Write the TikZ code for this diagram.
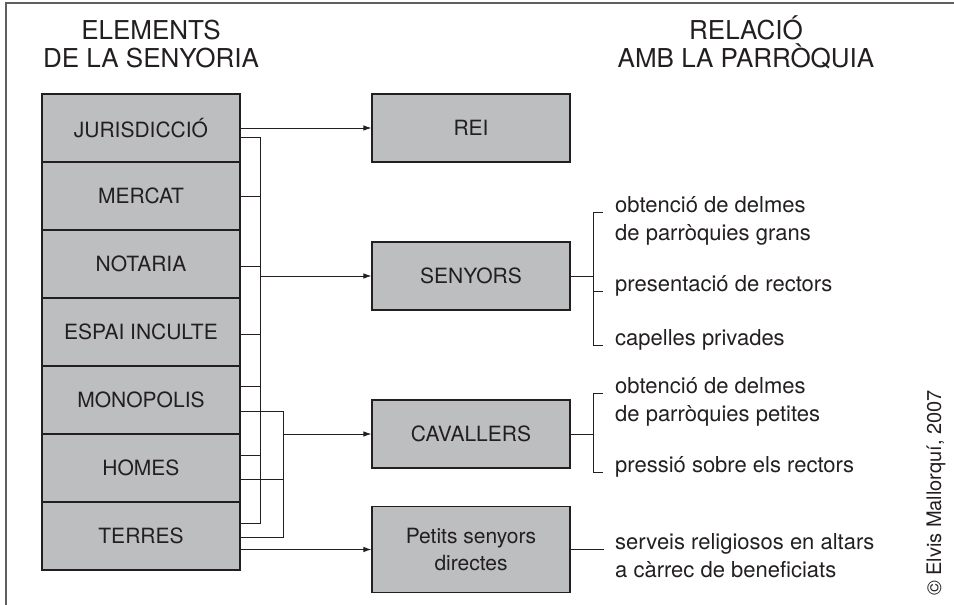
\documentclass[tikz,border=0pt]{standalone}
\usepackage{fontspec}
\setmainfont{TeX Gyre Heros}
\usetikzlibrary{arrows.meta}
\definecolor{boxgray}{RGB}{189,190,192}
\definecolor{ink}{RGB}{35,31,32}
\definecolor{framegray}{RGB}{95,95,95}

\begin{document}
\begin{tikzpicture}[x=1pt,y=-1pt,
    elem/.style={draw=ink, line width=1.1pt, fill=boxgray, minimum width=198pt,
      minimum height=68pt, inner sep=0pt, align=center, text=ink,
      font=\fontsize{21}{26.7}\selectfont},
    note/.style={anchor=base west, align=left, inner sep=0pt, text=ink,
      font=\fontsize{22}{28}\selectfont},
    head/.style={anchor=base, align=center, inner sep=0pt, text=ink,
      font=\fontsize{26}{28}\selectfont},
    link/.style={draw=ink, line width=0.9pt},
    arr/.style={link, -{Latex[length=8pt,width=5.5pt]}}]
    \useasboundingbox (0,0) rectangle (954,605);

    % Draw the frame (top and left only)
    \draw[framegray, line width=1.3pt] (6,605) -- (6,3) -- (954,3);

    % Column titles (base = last line)
    \node[head] (lhead) at (151,67) {ELEMENTS\\DE LA SENYORIA};
    \node[head] (rhead) at (746,67) {RELACIÓ\\AMB LA PARRÒQUIA};

    % Elements of the lordship
    \node[elem] (jur) at (141,128) {JURISDICCIÓ};
    \node[elem] (mer) at (141,196) {MERCAT};
    \node[elem] (not) at (141,264) {NOTARIA};
    \node[elem] (esp) at (141,332) {ESPAI INCULTE};
    \node[elem] (mon) at (141,400) {MONOPOLIS};
    \node[elem] (hom) at (141,468) {HOMES};
    \node[elem] (ter) at (141,536) {TERRES};

    % Who holds them
    \node[elem] (rei) at (471,128) {REI};
    \node[elem] (sen) at (471,276) {SENYORS};
    \node[elem] (cav) at (471,434) {CAVALLERS};
    \node[elem, minimum height=86pt] (pet) at (471,549.5) {Petits senyors\\directes};

    % Bus lines
    \coordinate (b1t) at (260,137);
    \coordinate (b1b) at (260,523);
    \coordinate (b2t) at (283,411);
    \coordinate (b2b) at (283,537);
    \draw[link] (jur.east |- b1t) -- (b1t) -- (b1b) -- (ter.east |- b1b);
    \draw[link] (mon.east |- b2t) -- (b2t) -- (b2b) -- (ter.east |- b2b);
    \foreach \n/\s in {mer/0, not/-2, esp/-2, mon/14, hom/13}
      \draw[link] ([yshift=\s pt]\n.east) -- ++(20,0);
    \draw[link] ([yshift=-11pt]hom.east) -- ++(43,0);

    % Arrows to the right column
    \draw[arr] (jur.east) -- (rei.west);
    \draw[arr] (b1t |- sen.west) -- (sen.west);
    \draw[arr] (b2t |- cav.west) -- (cav.west);
    \draw[arr] (ter.east |- pet.west) -- (pet.west);

    % Relation with the parish (base = last line)
    \node[note] (sa) at (615,240) {obtenció de delmes\\de parròquies grans};
    \node[note] (sb) at (615,291.5) {presentació de rectors};
    \node[note] (sc) at (615,345.5) {capelles privades};
    \node[note] (ca) at (615,421) {obtenció de delmes\\de parròquies petites};
    \node[note] (cb) at (615,472) {pressió sobre els rectors};
    \node[note] (pa) at (615,577.5) {serveis religiosos en altars\\a càrrec de beneficiats};

    % Brackets
    \draw[link] (sen.east) -- ++(23,0);
    \draw[link] ([xshift=-12pt,yshift=28pt]sa.base west) -- ++(-10,0) |- ([xshift=-12pt]sc.base west);
    \draw[link] ([xshift=-12pt]sb.base west) -- ++(-10,0);
    \draw[link] (cav.east) -- ++(23,0);
    \draw[link] ([xshift=-12pt,yshift=28pt]ca.base west) -- ++(-10,0) |- ([xshift=-12pt]cb.base west);
    \draw[link] (pet.east) -- ++(33,0);

    % Credit
    \node[rotate=90, text=ink, font=\fontsize{20}{24}\selectfont] (credit) at (936,493) {© Elvis Mallorquí, 2007};
\end{tikzpicture}
\end{document}
